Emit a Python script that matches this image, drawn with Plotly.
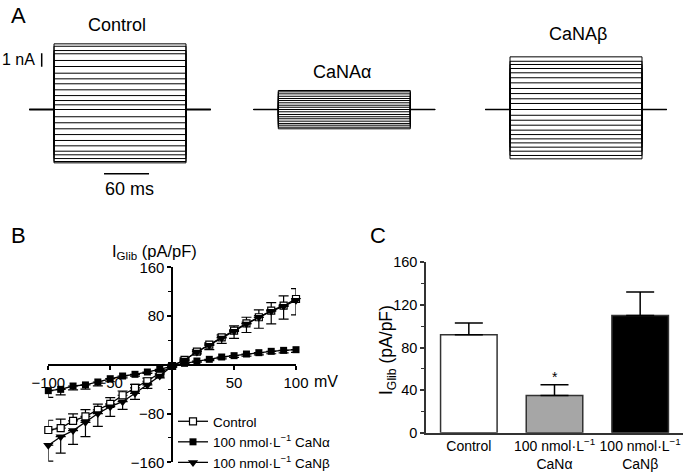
import plotly.graph_objects as go

W, H = 691, 476
FONT = "Liberation Sans, Arial, sans-serif"

# ---------------- Panel A: current levels (nA) of each sweep ----------------
ctrl_levels = [4.90, 4.72, 4.40, 4.16, 3.66, 3.21, 2.71, 2.29, 1.92, 1.47, 1.04, 0.67, 0.35, 0.0,
               -0.54, -0.99, -1.44, -1.87, -2.31, -2.71, -3.11, -3.38, -3.66, -3.88, -3.98]
alpha_levels = [1.42, 1.32, 1.17, 0.99, 0.82, 0.67, 0.50, 0.32, 0.17, 0.0,
                -0.17, -0.37, -0.54, -0.69, -0.87, -1.04, -1.17, -1.32, -1.44]
beta_levels = [3.93, 3.60, 3.36, 3.06, 2.74, 2.37, 1.99, 1.57, 1.19, 0.80, 0.45, 0.0,
               -0.43, -0.80, -1.17, -1.54, -1.87, -2.19, -2.49, -2.81, -3.11, -3.43, -3.68]
sweep_times = [-33, 0, 176, 209]  # ms: holding start, pulse on, pulse off, holding end

# ---------------- Panel B: I-V relationship ----------------
voltages = [-100, -90, -80, -70, -60, -50, -40, -30, -20, -10, 0, 10, 20, 30, 40, 50, 60, 70, 80, 90, 100]
iv_control = [-107, -104, -92, -84.5, -74, -64, -50, -38, -27, -15, -2, 8, 21.5, 33, 45, 56, 68, 78, 89, 97, 108]
iv_control_err = [16, 15, 11.5, 11, 9.5, 10, 7, 6, 5, 4, 2, 3, 3, 3, 4, 8, 10, 12, 13, 16, 17]
iv_alpha = [-42.4, -40.3, -34.8, -33, -28.2, -22.8, -18.4, -15.6, -11.8, -7.4, -2, 2.4, 6.2, 9, 12.8, 15, 17.7, 19.9, 22.1, 23.7, 24.8]
iv_alpha_err = [11, 9, 6.5, 7, 6.4, 5, 3, 3, 2.5, 2, 2, 2, 2, 2, 3, 3, 3.5, 3.5, 4, 4, 4.5]
iv_beta = [-132, -118, -108, -94.4, -80, -68.7, -60.5, -46.8, -33, -18.4, -2, 8, 21, 32, 44, 55, 67, 78, 88, 96, 106]
iv_beta_err = [26, 27, 22.6, 23.6, 21, 16, 12.5, 10, 5.6, 3, 2, 2, 3, 7, 9, 11.5, 14, 18, 21, 21, 24]
iv_names = ["Control", "100 nmol·L<sup>−1</sup> CaNα", "100 nmol·L<sup>−1</sup> CaNβ"]

# ---------------- Panel C: bar chart ----------------
bar_labels = ["Control", "100 nmol·L<sup>−1</sup><br>CaNα", "100 nmol·L<sup>−1</sup><br>CaNβ"]
bar_values = [92, 35, 110]
bar_sem = [11, 10, 22]
bar_colors = ["white", "#a6a6a6", "black"]


def px(x):
    return x / W


def py(y):
    return 1 - y / H


def sweeps(levels):
    t0, t1, t2, t3 = sweep_times
    xs, ys = [], []
    for L in levels:
        xs += [t0, t1, t1, t2, t2, t3, None]
        ys += [0, 0, L, L, 0, 0, None]
    return xs, ys


fig = go.Figure()

for i, lev in enumerate([ctrl_levels, alpha_levels, beta_levels]):
    xs, ys = sweeps(lev)
    ax = "" if i == 0 else str(i + 1)
    fig.add_trace(go.Scatter(x=xs, y=ys, mode="lines", line=dict(color="black", width=1),
                             xaxis="x" + ax, yaxis="y" + ax, showlegend=False, hoverinfo="skip"))
    t0, t1, t2, t3 = sweep_times
    fig.add_trace(go.Scatter(x=[t0, t1, None, t2, t3], y=[0, 0, None, 0, 0], mode="lines",
                             line=dict(color="black", width=1.8 if i == 0 else 1.5),
                             xaxis="x" + ax, yaxis="y" + ax, showlegend=False, hoverinfo="skip"))

zeros = [0] * len(voltages)
fig.add_trace(go.Scatter(
    x=voltages, y=iv_control, name=iv_names[0], mode="lines+markers",
    line=dict(color="black", width=1.3),
    marker=dict(symbol="square", size=7, color="white", line=dict(color="black", width=1.2)),
    error_y=dict(type="data", symmetric=False, array=iv_control_err, arrayminus=zeros,
                 color="black", thickness=1.2, width=5),
    xaxis="x4", yaxis="y4", cliponaxis=False))
fig.add_trace(go.Scatter(
    x=voltages, y=iv_alpha, name=iv_names[1], mode="lines+markers",
    line=dict(color="black", width=1.3),
    marker=dict(symbol="square", size=7, color="black"),
    error_y=dict(type="data", symmetric=False, array=zeros, arrayminus=iv_alpha_err,
                 color="black", thickness=1.2, width=5),
    xaxis="x4", yaxis="y4", cliponaxis=False))
fig.add_trace(go.Scatter(
    x=voltages, y=iv_beta, name=iv_names[2], mode="lines+markers",
    line=dict(color="black", width=1.3),
    marker=dict(symbol="triangle-down", size=9, color="black"),
    error_y=dict(type="data", symmetric=False, array=zeros, arrayminus=iv_beta_err,
                 color="black", thickness=1.2, width=5),
    xaxis="x4", yaxis="y4", cliponaxis=False))

fig.add_trace(go.Bar(
    x=bar_labels, y=bar_values, width=0.66,
    marker=dict(color=bar_colors, line=dict(color="#333333", width=1.5)),
    error_y=dict(type="data", symmetric=False, array=bar_sem, arrayminus=[0, 0, 0],
                 color="black", thickness=1.5, width=14),
    xaxis="x5", yaxis="y5", showlegend=False))

hidden = dict(visible=False, showgrid=False, zeroline=False)
a_yrange = [-5.26, 6.68]
a_ydom = [py(180), py(20)]
a_xrange = [-34, 210]

axis_common = dict(showgrid=False, zeroline=False, showline=True, linecolor="black",
                   linewidth=1.5, ticks="outside", tickcolor="black", tickwidth=1.5,
                   ticklen=4, tickfont=dict(family=FONT, size=15, color="black"))

fig.update_layout(
    width=W, height=H, autosize=False,
    margin=dict(l=0, r=0, t=0, b=0, autoexpand=False),
    paper_bgcolor="white", plot_bgcolor="rgba(0,0,0,0)",
    font=dict(family=FONT, color="black"),
    xaxis=dict(domain=[px(28.5), px(211.5)], range=a_xrange, anchor="y", **hidden),
    yaxis=dict(domain=a_ydom, range=a_yrange, anchor="x", **hidden),
    xaxis2=dict(domain=[px(252.8), px(435.8)], range=a_xrange, anchor="y2", **hidden),
    yaxis2=dict(domain=a_ydom, range=a_yrange, anchor="x2", **hidden),
    xaxis3=dict(domain=[px(484.5), px(667.5)], range=a_xrange, anchor="y3", **hidden),
    yaxis3=dict(domain=a_ydom, range=a_yrange, anchor="x3", **hidden),
    xaxis4=dict(domain=[px(48.3), px(296)], range=[-100, 100], anchor="free",
                position=py(364.8), tickvals=[-100, -50, 50, 100], **axis_common),
    yaxis4=dict(domain=[py(462.3), py(267.3)], range=[-160, 160], anchor="free",
                position=px(172.2), tickvals=[-160, -80, 80, 160],
                minor=dict(tickvals=[-120, -40, 40, 120], ticklen=3, tickcolor="black", tickwidth=1.2),
                **axis_common),
    xaxis5=dict(domain=[px(426), px(683)], range=[-0.5, 2.5], anchor="y5",
                showgrid=False, zeroline=False, showline=True, linecolor="#333333", linewidth=1.5,
                ticks="", tickangle=0, tickfont=dict(family=FONT, size=14, color="black")),
    yaxis5=dict(domain=[py(432.7), py(262.3)], range=[0, 160], anchor="x5",
                showgrid=False, zeroline=False, showline=True, linecolor="#333333", linewidth=1.5,
                ticks="outside", tickcolor="#333333", tickwidth=1.5, ticklen=4,
                tickvals=[0, 40, 80, 120, 160],
                minor=dict(tickvals=[20, 60, 100, 140], ticklen=3, tickcolor="#333333", tickwidth=1.2),
                tickfont=dict(family=FONT, size=14.5, color="black")),
    legend=dict(x=px(173), y=py(406), xanchor="left", yanchor="top",
                bgcolor="rgba(0,0,0,0)", font=dict(family=FONT, size=13.5, color="black"),
                tracegroupgap=0, itemwidth=30),
    bargap=0.3,
)

# scale bars of panel A (in control-trace coordinates)
fig.add_shape(type="line", xref="x", yref="y", x0=-16.4, x1=-16.4, y0=3.19, y1=4.19,
              line=dict(color="black", width=1.5))
fig.add_shape(type="line", xref="x", yref="y", x0=66.7, x1=126.7, y0=-4.79, y1=-4.79,
              line=dict(color="black", width=1.5))


def ann(text, x, y, size, xanchor="center", **kw):
    fig.add_annotation(text=text, x=px(x), y=py(y), xref="paper", yref="paper",
                       xanchor=xanchor, yanchor="middle",
                       showarrow=False, font=dict(family=FONT, size=size, color="black"), **kw)


ann("A", 18, 15, 22)
ann("Control", 117, 25, 18)
ann("1 nA", 0, 59, 16, xanchor="left")
ann("60 ms", 129, 189, 18)
ann("CaNAα", 342, 72, 18)
ann("CaNAβ", 578, 34, 18)
ann("B", 18, 235, 22)
ann("I<sub>Glib</sub> (pA/pF)", 154, 252, 16.5)
ann("mV", 312, 381, 16, xanchor="left")
ann("C", 378, 235, 22)
ann("I<sub>Glib</sub> (pA/pF)", 387, 350, 17.5, textangle=-90)
fig.add_annotation(text="*", x=1, y=bar_values[1] + bar_sem[1], xref="x5", yref="y5",
                   xanchor="center", yanchor="bottom", yshift=-2, showarrow=False,
                   font=dict(family=FONT, size=14, color="black"))

fig.write_html("out.html", config={"displayModeBar": False},
               post_script="document.body.style.margin='0';")
